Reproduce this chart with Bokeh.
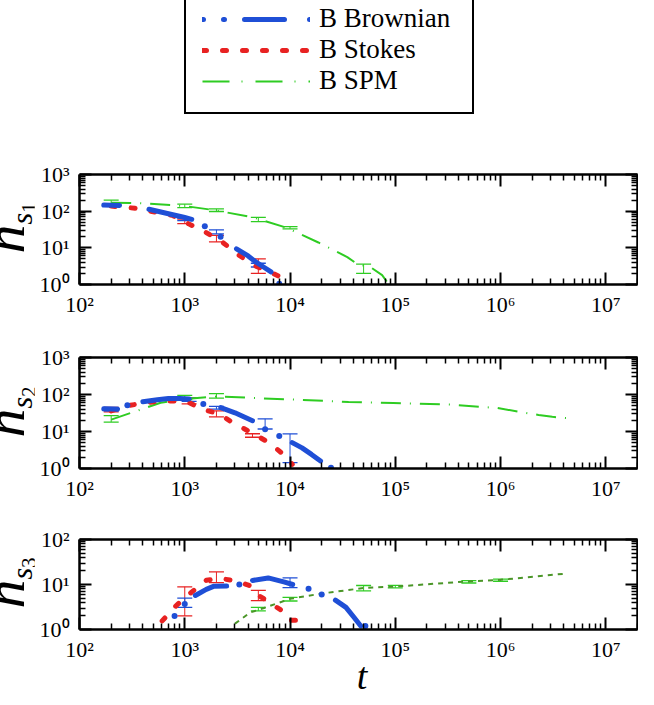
import math
from bokeh.plotting import figure
from bokeh.models import (Range1d, LogAxis, FixedTicker, CustomJSTickFormatter, Whisker, TeeHead,
                          ColumnDataSource, Legend, LegendItem, Div)
from bokeh.layouts import column, row
from bokeh.embed import file_html
from bokeh.resources import INLINE

# ---------------- data ----------------
# panel 1 : n_s1   (blue curve: solid runs + isolated dots, as seen in the picture)
b1_runs_t = [[170, 240], [457, 700, 1000, 1165], [3100, 4000, 4800, 5600, 6600]]
b1_runs_n = [[147, 143], [113, 85, 67, 60], [9.4, 6, 4, 3, 2.2]]
b1_dot_t = [1550, 2190, 7900]
b1_dot_n = [39, 20, 1.05]
r1_t = [200, 340, 490, 760, 1090, 1600, 2300, 3300, 4600, 6900, 10000]
r1_n = [138, 120, 98, 77, 45, 26, 14, 6.2, 3.3, 2.0, 1.2]
g1_t = [200, 375, 1000, 1900, 4400, 9100, 18600, 35000, 43000, 60000, 75000, 87000]
g1_n = [170, 165, 138, 107, 68, 36, 14, 5.6, 3.7, 2.8, 1.8, 1.0]
b1_err_t = [200, 1000, 2000, 5000]
b1_err_lo = [140, 55, 24, 3.0]
b1_err_hi = [150, 65, 31, 3.8]
r1_err_t = [200, 1000, 2000, 5000]
r1_err_lo = [135, 46, 14.5, 2.0]
r1_err_hi = [145, 61, 22, 5.0]
g1_err_t = [200, 1000, 2000, 5000, 10000, 50000]
g1_err_lo = [150, 125, 98, 52, 33, 2.0]
g1_err_hi = [200, 155, 115, 68, 38, 3.6]

# panel 2 : n_s2
b2_runs_t = [[170, 230], [400, 550, 700, 900, 1100], [2200, 3000, 4400], [10500, 13000, 16000, 19500]]
b2_runs_n = [[41, 40], [64, 72, 78, 78, 76], [44, 32, 19.5], [5, 3.6, 2.4, 1.6]]
b2_dot_t = [285, 1500, 5800, 7900, 24500]
b2_dot_n = [51, 55, 11.5, 7.6, 1.05]
r2_t = [200, 285, 490, 780, 1100, 1470, 2100, 3000, 4400, 6300, 9000, 10500]
r2_n = [36, 50, 63, 67, 60, 40, 30, 16, 9.0, 5, 2.2, 1.3]
g2_t = [200, 310, 590, 930, 1400, 2100, 5200, 11000, 36000, 96000, 350000, 940000,
        1600000, 2300000, 3100000, 4200000]
g2_n = [21, 32, 60, 73, 82, 89, 79, 73, 63, 59, 53, 43, 33, 28, 25, 23]
b2_err_t = [200, 1100, 2000, 5800, 10000]
b2_err_lo = [36, 65, 40, 11.7, 1.45]
b2_err_hi = [45, 80, 48, 22, 8.6]
r2_err_t = [200, 1100, 2000, 4400]
r2_err_lo = [34, 56, 25, 7.0]
r2_err_hi = [45, 81, 36, 8.7]
g2_err_t = [200, 1000, 2000]
g2_err_lo = [18, 73, 80]
g2_err_hi = [27, 95, 105]

# panel 3 : n_s3
b3_runs_t = [[1260, 1600, 1900, 2500], [4400, 6200, 8900, 10600], [27000, 34000, 41000, 47000]]
b3_runs_n = [[5.7, 7.8, 9.2, 9.3], [12.3, 14, 11.3, 10], [4.5, 3.1, 1.8, 1.2]]
b3_dot_t = [800, 1000, 3300, 15000, 20000, 52000]
b3_dot_n = [2, 3.7, 10, 8, 6, 1.2]
r3_t = [610, 830, 1120, 1600, 2180, 2950, 4100, 4700, 6000, 7500, 8900, 10000, 12400]
r3_n = [1.55, 3.4, 6.3, 12.4, 13.5, 12.3, 9.5, 6.3, 4.4, 3.1, 2.4, 1.6, 1.6]
g3_t = [3000, 4200, 5200, 10000, 20000, 51000, 100000, 480000, 1000000, 4200000]
g3_n = [1.35, 2.4, 2.8, 4.8, 6.3, 8.4, 9.0, 11.7, 12.7, 17.5]
b3_err_t = [1000, 10000]
b3_err_lo = [3.1, 8.5]
b3_err_hi = [5.0, 14]
r3_err_t = [1000, 2000, 5000]
r3_err_lo = [2.0, 11, 4.4]
r3_err_hi = [8.9, 19, 7.4]
g3_err_t = [5000, 10000, 50000, 100000, 500000, 1000000]
g3_err_lo = [2.6, 4.3, 7.2, 8.4, 10.8, 11.8]
g3_err_hi = [3.1, 5.2, 9.5, 9.6, 12.2, 13.2]

legend_labels = ["B Brownian", "B Stokes", "B SPM"]
y_label_subs = ["1", "2", "3"]
x_label = "t"
x_decades = [2, 3, 4, 5, 6, 7]

# ---------------- styles ----------------
BLUE = "#1f4fd6"
RED = "#e82222"
GREEN = "#2ecc22"
DKGREEN = "#4b9628"
FONT = "Liberation Serif"
BLUE_DASH = "1 20 1 20 40 25"
RED_DASH = "4 16"
GREEN_DASH = "20 9 1 9"
GREEN_LEG_DASH = "27 12 1 13"
DK_DASH = "5 5"

W = 638
LAB_W = 34
PANEL_LEFT = 45

fmt_code = """
const sup = ["\u2070","\u00b9","\u00b2","\u00b3","\u2074","\u2075","\u2076","\u2077","\u2078","\u2079"];
const e = Math.round(Math.log10(tick));
let s = "";
for (const c of String(e)) { s += (c == "-") ? "\u207b" : sup[+c]; }
return "10" + s;
"""


def ticker(lo_exp, hi_exp, hi_val):
    majors = [10.0 ** e for e in range(lo_exp, hi_exp + 1)]
    minors = []
    for e in range(lo_exp, hi_exp + 1):
        for k in range(2, 10):
            v = k * 10.0 ** e
            if v <= hi_val * 1.0001:
                minors.append(v)
    return FixedTicker(ticks=majors, minor_ticks=minors)


def style_axis(ax, show_labels):
    ax.axis_line_width = 2.5
    ax.axis_line_color = "black"
    ax.major_tick_in = 12
    ax.major_tick_out = 0
    ax.minor_tick_in = 6
    ax.minor_tick_out = 0
    ax.major_tick_line_width = 2
    ax.minor_tick_line_width = 1.5
    ax.major_tick_line_color = "black"
    ax.minor_tick_line_color = "black"
    if show_labels:
        ax.major_label_text_font = FONT
        ax.major_label_text_font_size = "22px"
        ax.major_label_text_color = "black"
    else:
        ax.formatter = CustomJSTickFormatter(code='return "";')
        ax.major_label_text_font_size = "1px"
        ax.major_label_standoff = 0


def make_panel(y_hi_exp, frame_h, top, bottom):
    ymax = 10.0 ** y_hi_exp
    p = figure(width=W - LAB_W, height=top + frame_h + bottom, x_axis_type="log",
               y_axis_type="log", x_range=Range1d(100, 2e7), y_range=Range1d(1, ymax),
               title=None, min_border_left=PANEL_LEFT, min_border_right=1, min_border_top=top,
               min_border_bottom=bottom, toolbar_location=None, output_backend="svg",
               outline_line_color=None, background_fill_color="white",
               border_fill_color="white")
    p.grid.visible = False
    fmt = CustomJSTickFormatter(code=fmt_code)
    p.xaxis.ticker = ticker(x_decades[0], x_decades[-1], 2e7)
    p.xaxis.formatter = fmt
    p.yaxis.ticker = ticker(0, y_hi_exp, ymax)
    p.yaxis.formatter = fmt
    style_axis(p.xaxis[0], True)
    style_axis(p.yaxis[0], True)
    p.xaxis.major_label_standoff = 7
    p.yaxis.major_label_standoff = 10
    top_ax = LogAxis(ticker=ticker(x_decades[0], x_decades[-1], 2e7))
    right_ax = LogAxis(ticker=ticker(0, y_hi_exp, ymax))
    style_axis(top_ax, False)
    style_axis(right_ax, False)
    p.add_layout(top_ax, "above")
    p.add_layout(right_ax, "right")
    return p


def add_err(p, t, lo, hi, color):
    src = ColumnDataSource(dict(t=t, lo=lo, hi=hi))
    w = Whisker(base="t", lower="lo", upper="hi", source=src, dimension="height",
                line_color=color, line_width=1,
                upper_head=TeeHead(size=15, line_color=color, line_width=1.3),
                lower_head=TeeHead(size=15, line_color=color, line_width=1.3))
    p.add_layout(w)


def ylabel_div(top, frame_h, bottom, digit):
    h = top + frame_h + bottom
    cy = top + frame_h / 2.0 - 1
    html = (
        f'<div style="position:relative;width:{LAB_W}px;height:{h}px;overflow:visible;">'
        f'<div style="position:absolute;left:5px;top:{cy}px;'
        'transform:translate(-50%,-50%) rotate(-90deg);white-space:nowrap;'
        f"font-family:'{FONT}',serif;color:#000;line-height:1;\">"
        '<span style="font-style:italic;font-size:58px;">n</span>'
        '<span style="font-style:italic;font-size:30px;position:relative;top:0.25em;">s</span>'
        f'<span style="font-size:21px;position:relative;top:0.55em;">{digit}</span>'
        '</div></div>')
    return Div(text=html, width=LAB_W, height=h, margin=0, styles={"overflow": "visible"})


def series(p, gt, gn, rt, rn, runs_t, runs_n, dot_t, dot_n, green_color=GREEN, green_dash=GREEN_DASH):
    p.line(gt, gn, line_color=green_color, line_width=2, line_dash=green_dash)
    p.line(rt, rn, line_color=RED, line_width=5, line_dash=RED_DASH, line_cap="round")
    for rt_, rn_ in zip(runs_t, runs_n):
        p.line(rt_, rn_, line_color=BLUE, line_width=5, line_cap="round", line_join="round")
    p.scatter(dot_t, dot_n, size=6, marker="circle", fill_color=BLUE, line_color=None)


# ---------------- legend figure ----------------
LEG_H = 150
leg = figure(width=W, height=LEG_H, x_range=Range1d(0, 1), y_range=Range1d(0, 1),
             x_axis_location=None, y_axis_location=None, title=None, min_border=0,
             min_border_left=0, min_border_right=0, min_border_top=0, min_border_bottom=0,
             toolbar_location=None, output_backend="svg", outline_line_color=None)
leg.grid.visible = False
hid_x = [5, 6]
hid_y = [5, 6]
lb = leg.line(x=hid_x, y=hid_y, line_color=BLUE, line_width=5, line_dash=BLUE_DASH, line_cap="round")
lr = leg.line(x=hid_x, y=hid_y, line_color=RED, line_width=5, line_dash=RED_DASH, line_cap="round")
lg = leg.line(x=hid_x, y=hid_y, line_color=GREEN, line_width=2, line_dash=GREEN_LEG_DASH)
legend = Legend(items=[LegendItem(label=legend_labels[0], renderers=[lb]),
                       LegendItem(label=legend_labels[1], renderers=[lr]),
                       LegendItem(label=legend_labels[2], renderers=[lg])],
                location=(184, 36), margin=0, padding=16, spacing=-5,
                glyph_width=108, glyph_height=20, label_height=20, label_standoff=9,
                label_width=137, label_text_font=FONT, label_text_font_size="27px",
                label_text_color="black", border_line_color="black", border_line_width=2,
                border_line_alpha=1.0, background_fill_color="white", background_fill_alpha=1.0)
leg.add_layout(legend)

# ---------------- panels ----------------
P1 = (24, 110, 53)
P2 = (20, 111, 51)
P3 = (20, 90, 35)

p1 = make_panel(3, P1[1], P1[0], P1[2])
series(p1, g1_t, g1_n, r1_t, r1_n, b1_runs_t, b1_runs_n, b1_dot_t, b1_dot_n)
add_err(p1, g1_err_t, g1_err_lo, g1_err_hi, GREEN)
add_err(p1, r1_err_t, r1_err_lo, r1_err_hi, RED)
add_err(p1, b1_err_t, b1_err_lo, b1_err_hi, BLUE)
l1 = ylabel_div(P1[0], P1[1], P1[2], y_label_subs[0])

p2 = make_panel(3, P2[1], P2[0], P2[2])
series(p2, g2_t, g2_n, r2_t, r2_n, b2_runs_t, b2_runs_n, b2_dot_t, b2_dot_n)
add_err(p2, g2_err_t, g2_err_lo, g2_err_hi, GREEN)
add_err(p2, r2_err_t, r2_err_lo, r2_err_hi, RED)
add_err(p2, b2_err_t, b2_err_lo, b2_err_hi, BLUE)
l2 = ylabel_div(P2[0], P2[1], P2[2], y_label_subs[1])

p3 = make_panel(2, P3[1], P3[0], P3[2])
series(p3, g3_t, g3_n, r3_t, r3_n, b3_runs_t, b3_runs_n, b3_dot_t, b3_dot_n,
       green_color=DKGREEN, green_dash=DK_DASH)
add_err(p3, g3_err_t, g3_err_lo, g3_err_hi, GREEN)
add_err(p3, r3_err_t, r3_err_lo, r3_err_hi, RED)
add_err(p3, b3_err_t, b3_err_lo, b3_err_hi, BLUE)
l3 = ylabel_div(P3[0], P3[1], P3[2], y_label_subs[2])

T_H = 689 - LEG_H - sum(P1) - sum(P2) - sum(P3)
t_html = (f'<div style="position:relative;width:{W}px;height:{T_H}px;overflow:visible;">'
          f'<div style="position:absolute;left:362px;top:-7px;transform:translateX(-50%);'
          f"font-family:'{FONT}',serif;font-style:italic;font-size:38px;line-height:1;color:#000;\">"
          f'{x_label}</div></div>')
tdiv = Div(text=t_html, width=W, height=T_H, margin=0, styles={"overflow": "visible"})

layout = column(leg, row(l1, p1, spacing=0), row(l2, p2, spacing=0), row(l3, p3, spacing=0),
                tdiv, spacing=0)

with open("out.html", "w", encoding="utf-8") as f:
    f.write(file_html(layout, INLINE))
